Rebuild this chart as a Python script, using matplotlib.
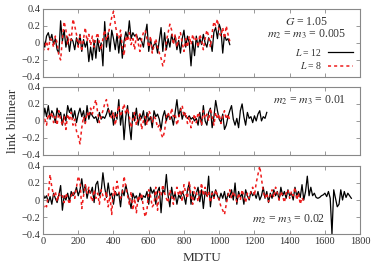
import numpy as np
import matplotlib
matplotlib.use("Agg")
import matplotlib.pyplot as plt

plt.rcParams['font.family'] = ['Liberation Serif', 'DejaVu Serif']
plt.rcParams['mathtext.fontset'] = 'stix'

# sampling interval of the series (MDTU)
DT = 10

# panel 1: m2 = m3 = 0.005
p1_L12 = [0.05, -0.05, 0.08, 0.12, 0.03, 0.10, -0.02, 0.05, -0.08, -0.12,
          0.26, 0.02, 0.15, -0.05, 0.07, -0.10, 0.05, 0.02, -0.08, 0.06,
          -0.03, 0.10, -0.10, 0.04, -0.05, 0.02, -0.22, -0.05, -0.20, 0.03,
          -0.18, 0.05, -0.10, 0.00, -0.27, 0.25, -0.05, 0.12, -0.10, 0.15,
          0.05, -0.08, 0.10, -0.12, 0.08, -0.18, 0.02, 0.13, 0.05, 0.26,
          0.05, 0.12, 0.08, 0.10, 0.03, 0.06, 0.02, -0.05, 0.10, 0.22,
          -0.10, 0.05, -0.08, -0.02, 0.00, -0.12, 0.03, 0.18, -0.10, 0.12,
          -0.08, 0.05, -0.05, 0.10, 0.00, 0.08, -0.08, 0.03, -0.12, 0.05,
          0.15, -0.05, 0.08, 0.00, -0.27, 0.02, -0.15, 0.08, -0.05, 0.05,
          -0.02, 0.10, 0.00, -0.05, 0.06, 0.02, -0.10, 0.13, 0.18, 0.05,
          0.22, 0.15, -0.12, 0.10, 0.03, 0.05, -0.02]
p1_L8 = [-0.10, -0.05, 0.02, -0.08, 0.05, 0.03, -0.05, 0.08, 0.00, -0.15,
         -0.20, 0.05, 0.25, 0.15, -0.02, 0.10, 0.03, 0.28, 0.20, 0.10,
         -0.05, 0.08, -0.10, 0.05, 0.18, 0.02, 0.10, -0.03, 0.08, -0.05,
         0.05, 0.12, 0.00, -0.08, 0.05, 0.15, 0.03, 0.10, 0.20, 0.30,
         0.37, 0.22, 0.10, 0.05, 0.15, -0.05, -0.15, 0.08, 0.02, 0.12,
         -0.02, 0.05, -0.08, 0.10, 0.00, -0.10, 0.05, 0.12, 0.15, 0.05,
         -0.05, 0.08, -0.12, -0.03, 0.05, -0.05, -0.12, -0.18, -0.27, -0.20,
         0.02, 0.12, 0.22, 0.15, -0.02, 0.10, -0.05, 0.05, 0.12, 0.00,
         -0.10, 0.05, -0.05, 0.08, -0.02, 0.10, 0.02, 0.05, -0.05, 0.10,
         0.03, -0.08, 0.05, 0.15, 0.08, -0.05, 0.12, 0.25, 0.20, 0.28,
         0.12, 0.08, 0.18, 0.05, 0.20, 0.10, 0.02]

# panel 2: m2 = m3 = 0.01
p2_L12 = [0.00, 0.15, 0.05, 0.18, 0.02, 0.12, 0.08, -0.02, 0.15, 0.05,
          0.10, -0.05, 0.08, 0.00, 0.18, 0.10, 0.15, 0.03, 0.12, -0.02,
          0.08, 0.15, 0.05, 0.12, -0.03, 0.18, 0.02, 0.10, 0.06, 0.03,
          0.05, -0.02, 0.10, 0.02, 0.05, 0.03, 0.08, 0.15, 0.05, 0.12,
          -0.05, 0.10, 0.02, 0.25, -0.05, 0.12, -0.22, 0.05, 0.18, -0.05,
          -0.22, 0.10, 0.00, 0.15, -0.05, 0.08, 0.03, 0.12, -0.05, 0.10,
          0.00, 0.05, -0.08, 0.12, 0.05, 0.08, 0.02, -0.10, 0.05, 0.12,
          0.00, 0.08, 0.02, 0.05, -0.05, 0.10, 0.25, 0.05, 0.15, 0.02,
          0.10, 0.05, 0.03, 0.06, 0.02, 0.04, 0.00, 0.03, -0.05, 0.10,
          -0.05, 0.18, 0.00, -0.05, 0.10, 0.15, -0.08, 0.05, 0.24, 0.12,
          0.02, -0.02, 0.08, -0.10, -0.05, 0.05, 0.12, 0.18, 0.02, -0.05,
          0.03, -0.08, 0.12, 0.20, 0.05, -0.05, 0.10, 0.03, 0.05, -0.02,
          0.06, 0.00, 0.08, 0.12, 0.00, 0.05, 0.03, 0.10]
p2_L8 = [-0.05, 0.02, -0.05, 0.08, 0.03, 0.10, -0.02, 0.05, -0.05, 0.12,
         0.02, -0.05, 0.05, -0.10, 0.08, 0.00, 0.10, -0.05, 0.02, -0.12,
         -0.18, -0.27, -0.08, 0.05, -0.03, 0.10, 0.05, 0.15, 0.08, 0.18,
         0.25, 0.10, -0.02, 0.05, 0.12, 0.20, 0.25, 0.15, 0.08, 0.03,
         0.10, -0.05, 0.08, 0.18, 0.05, 0.12, 0.20, 0.08, 0.15, 0.05,
         -0.08, 0.02, 0.10, -0.05, 0.03, 0.08, -0.10, 0.00, 0.05, -0.05,
         0.12, 0.08, -0.02, 0.05, 0.02, -0.08, -0.05, -0.15, -0.20, -0.12,
         0.05, 0.10, 0.02, 0.15, 0.05, 0.08, -0.05, 0.03, 0.12, 0.18,
         0.05, 0.10, -0.03, 0.05, -0.08, 0.00, 0.08, -0.02, 0.10, 0.05,
         -0.05, 0.12, 0.03, 0.08, 0.00, 0.15, 0.05, -0.05, 0.10, 0.02,
         0.08, -0.03, 0.05, 0.12, 0.02, 0.08, 0.00]

# panel 3: m2 = m3 = 0.02
p3_L12 = [0.07, 0.02, 0.05, -0.03, 0.04, -0.05, 0.08, 0.02, -0.03, 0.06,
          0.17, -0.12, 0.05, 0.00, 0.08, -0.02, 0.10, 0.05, 0.08, 0.15,
          0.05, 0.12, 0.25, 0.08, 0.18, 0.02, 0.12, 0.08, 0.15, -0.03,
          0.18, 0.22, 0.05, 0.10, 0.32, 0.15, 0.03, 0.20, 0.05, 0.08,
          -0.05, 0.10, 0.05, 0.08, -0.08, 0.12, 0.05, 0.18, 0.08, 0.00,
          -0.10, 0.08, 0.02, 0.05, -0.02, 0.08, 0.00, 0.05, 0.03, 0.10,
          -0.05, 0.15, 0.08, 0.12, -0.05, 0.10, 0.15, -0.15, 0.12, 0.08,
          0.30, 0.05, -0.08, 0.15, 0.02, 0.08, -0.05, 0.06, 0.02, 0.10,
          0.05, -0.05, 0.12, 0.20, -0.05, 0.10, 0.00, 0.08, 0.15, -0.02,
          0.12, -0.10, 0.10, 0.05, 0.28, -0.08, 0.10, 0.02, 0.12, 0.05,
          0.00, 0.08, 0.02, 0.10, -0.02, 0.08, 0.03, 0.12, 0.00, 0.20,
          -0.05, 0.10, 0.03, 0.08, -0.05, 0.12, 0.05, 0.00, 0.10, 0.05,
          0.08, 0.02, 0.10, 0.00, 0.05, 0.15, 0.02, 0.10, -0.03, 0.08,
          0.02, 0.12, 0.05, 0.10, 0.00, 0.15, 0.05, 0.10, 0.02, 0.12,
          0.05, 0.08, 0.00, 0.15, 0.05, 0.10, 0.03, 0.18, 0.00, 0.10,
          0.28, 0.05, 0.15, 0.05, 0.08, 0.03, 0.02, 0.03, 0.05, 0.06,
          0.08, 0.04, 0.10, 0.02, -0.40, 0.12, 0.02, -0.08, -0.05, 0.12,
          0.00, 0.10, 0.03, 0.08, 0.05, 0.02]
p3_L8 = [-0.10, -0.05, -0.08, 0.05, 0.30, 0.15, 0.05, 0.10, -0.02, 0.08,
         0.03, 0.05, -0.03, 0.08, 0.02, -0.05, 0.05, 0.10, 0.02, 0.15,
         0.28, 0.22, -0.10, 0.05, 0.18, 0.08, 0.15, 0.05, -0.02, 0.12,
         0.02, 0.08, -0.05, 0.12, 0.05, 0.00, 0.10, -0.08, 0.05, -0.17,
         0.15, 0.05, 0.22, 0.10, 0.02, 0.08, 0.28, 0.15, 0.05, -0.05,
         0.10, -0.12, 0.02, -0.15, 0.05, 0.00, 0.08, -0.10, -0.20, -0.12,
         0.12, 0.05, -0.08, -0.05, 0.15, -0.12, 0.10, 0.05, 0.18, 0.08,
         0.02, -0.03, 0.12, 0.05, -0.05, 0.10, 0.15, 0.05, 0.12, -0.02,
         0.18, 0.08, 0.02, 0.22, 0.05, -0.05, 0.15, 0.10, -0.02, 0.08,
         0.20, 0.05, 0.15, 0.03, 0.10, -0.03, 0.08, 0.02, 0.12, 0.05,
         0.00, -0.08, -0.12, -0.17, -0.05, 0.05, 0.12, 0.02, 0.10, 0.05,
         -0.02, 0.08, 0.00, 0.12, 0.05, -0.03, 0.08, 0.02, 0.10, 0.15,
         0.05, 0.20, 0.30, 0.40, 0.25, 0.10, 0.02, 0.08, -0.02, 0.05,
         0.12, 0.03, 0.15, 0.08, 0.00, 0.10, 0.05, -0.03, 0.08, 0.12,
         0.02, 0.10, 0.05, 0.15, 0.00, 0.08, -0.05, 0.03, -0.02]

panels = [(p1_L12, p1_L8), (p2_L12, p2_L8), (p3_L12, p3_L8)]
mass_labels = [r'$m_2$ = $m_3$ = 0.005', r'$m_2$ = $m_3$ = 0.01', r'$m_2$ = $m_3$ = 0.02']
yticks = [-0.4, -0.2, 0, 0.2, 0.4]
ytick_labels = [u'\u22120.4', u'\u22120.2', '0', '0.2', '0.4']
xticks = np.arange(0, 1801, 200)

fig = plt.figure(figsize=(3.74, 2.69), dpi=100)
left, width, height = 0.115, 0.848, 0.253
bottoms = [0.714, 0.424, 0.130]
axes = []

for i, (l12, l8) in enumerate(panels):
    ax = fig.add_axes([left, bottoms[i], width, height])
    t12 = np.arange(len(l12)) * DT
    t8 = np.arange(len(l8)) * DT
    ax.plot(t12, l12, color='black', lw=0.9, label=r'$L$ = 12')
    ax.plot(t8, l8, color='#ee1c1c', lw=1.1, dashes=(2, 2), label=r'$L$ = 8')

    ax.set_xlim(0, 1800)
    ax.set_ylim(-0.4, 0.4)
    ax.set_yticks(yticks)
    ax.set_yticklabels(ytick_labels)
    ax.set_xticks(xticks)
    ax.tick_params(direction='in', top=True, right=True, length=3, width=0.6,
                   color='#888888', labelsize=7.5, labelcolor='#333333', pad=2)
    if i < 2:
        ax.set_xticklabels([])
    for s in ax.spines.values():
        s.set_color('#888888')
        s.set_linewidth(0.8)
    axes.append(ax)

# annotations
txt_kw = dict(ha='center', va='center', fontsize=8.5, color='#333333')
axes[0].text(0.83, 0.81, r'$G$ = 1.05', transform=axes[0].transAxes, **txt_kw)
axes[0].text(0.83, 0.63, mass_labels[0], transform=axes[0].transAxes, **txt_kw)
axes[1].text(0.84, 0.81, mass_labels[1], transform=axes[1].transAxes, **txt_kw)
axes[2].text(0.775, 0.21, mass_labels[2], transform=axes[2].transAxes, **txt_kw)

leg = axes[0].legend(loc='lower right', bbox_to_anchor=(0.99, 0.03), frameon=False,
                     markerfirst=False, fontsize=7, handlelength=2.6,
                     handletextpad=0.6, labelspacing=0.25, borderaxespad=0.0)
for txt in leg.get_texts():
    txt.set_color('#333333')

fig.text(0.035, 0.55, 'link bilinear', rotation=90, ha='center', va='center',
         fontsize=9.5, color='#333333')
fig.text(0.54, 0.04, 'MDTU', ha='center', va='center', fontsize=9.5, color='#333333')

fig.savefig('out.png', dpi=100)
